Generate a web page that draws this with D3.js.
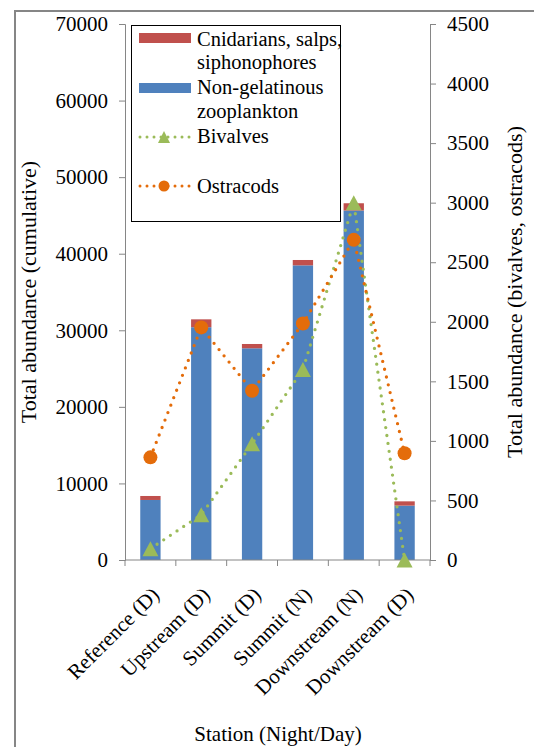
<!DOCTYPE html>
<html>
<head>
<meta charset="utf-8">
<script src="https://cdn.jsdelivr.net/npm/d3@7"></script>
<style>
html,body{margin:0;padding:0;background:#fff;}
</style>
</head>
<body>
<svg id="chart" width="534" height="747"></svg>
<script>
const categories = ["Reference (D)","Upstream (D)","Summit (D)","Summit (N)","Downstream (N)","Downstream (D)"];
const nonGelatinous = [7840, 30400, 27650, 38480, 45640, 7100];
const cnidarians = [520, 1030, 560, 700, 950, 560];
const bivalves = [95, 380, 975, 1600, 3000, 0];
const ostracods = [862, 1953, 1421, 1985, 2688, 896];
const leftTicks = [0,10000,20000,30000,40000,50000,60000,70000];
const rightTicks = [0,500,1000,1500,2000,2500,3000,3500,4000,4500];

const FONT = "Liberation Serif";
const svg = d3.select("#chart");
const L = 125, R = 430, T = 24, B = 560;
const gray = "#868686";
const blue = "#4F81BD", red = "#C0504D", green = "#9BBB59", orange = "#E46C0A";
function styleText(sel, size){
  sel.style("font-family",FONT).style("font-size",size+"px").attr("fill","#000");
}

// outer border
svg.append("rect").attr("x",15).attr("y",11).attr("width",700).attr("height",900)
  .attr("fill","none").attr("stroke",gray).attr("stroke-width",2);

const x = d3.scaleBand().domain(categories).range([L,R]).paddingInner(0.6).paddingOuter(0.3);
const step = x.step();
const cx = d => x(d) + x.bandwidth()/2;
const yL = d3.scaleLinear().domain([0,70000]).range([B,T]);
const yR = d3.scaleLinear().domain([0,4500]).range([B,T]);

// bars
const rows = categories.map((c,i)=>({c, ng:nonGelatinous[i], cn:cnidarians[i]}));
svg.append("g").selectAll("rect").data(rows).join("rect")
  .attr("x",d=>x(d.c)).attr("width",x.bandwidth())
  .attr("y",d=>yL(d.ng)).attr("height",d=>B-yL(d.ng)).attr("fill",blue);
svg.append("g").selectAll("rect").data(rows).join("rect")
  .attr("x",d=>x(d.c)).attr("width",x.bandwidth())
  .attr("y",d=>yL(d.ng+d.cn)).attr("height",d=>yL(d.ng)-yL(d.ng+d.cn)).attr("fill",red);

// axes
const fmt = d3.format("d");
const gl = svg.append("g").attr("transform",`translate(${L},0)`)
  .call(d3.axisLeft(yL).tickValues(leftTicks).tickFormat(fmt).tickSizeOuter(0).tickSize(6).tickPadding(11));
const gr = svg.append("g").attr("transform",`translate(${R},0)`)
  .call(d3.axisRight(yR).tickValues(rightTicks).tickFormat(fmt).tickSizeOuter(0).tickSize(6).tickPadding(11));
[gl,gr].forEach(g=>{
  g.attr("font-family",null);
  g.select(".domain").attr("stroke",gray);
  g.selectAll(".tick line").attr("stroke",gray);
  styleText(g.selectAll(".tick text"),21);
});
// x axis
svg.append("line").attr("x1",L).attr("x2",R).attr("y1",B).attr("y2",B).attr("stroke",gray);
const bounds = categories.map(c=>x(c)-x.paddingOuter()*step).concat([R]);
svg.append("g").selectAll("line").data(bounds).join("line")
  .attr("x1",d=>d).attr("x2",d=>d).attr("y1",B).attr("y2",B+6).attr("stroke",gray);
const xl = svg.append("g").selectAll("text").data(categories).join("text")
  .attr("transform",d=>`translate(${cx(d)+10},${B+36}) rotate(-45)`)
  .attr("text-anchor","end")
  .text(d=>d);
styleText(xl,21);

// lines
function series(vals, color){
  const pts = categories.map((c,i)=>[cx(c), yR(vals[i])]);
  svg.append("path").attr("d",d3.line().curve(d3.curveLinear)(pts))
    .attr("fill","none").attr("stroke",color).attr("stroke-width",3.3)
    .attr("stroke-linecap","round").attr("stroke-dasharray","0 8");
  return pts;
}
const tri = (px,py,w,h)=>`M${px},${py-h/2}L${px+w/2},${py+h/2}L${px-w/2},${py+h/2}Z`;
const bp = series(bivalves, green);
svg.append("g").selectAll("path").data(bp).join("path")
  .attr("d",d=>tri(d[0],d[1],16,15)).attr("fill",green);
const op = series(ostracods, orange);
svg.append("g").selectAll("circle").data(op).join("circle")
  .attr("cx",d=>d[0]).attr("cy",d=>d[1]).attr("r",7).attr("fill",orange);

// axis titles
styleText(svg.append("text").attr("transform",`translate(36,${(T+B)/2}) rotate(-90)`)
  .attr("text-anchor","middle").text("Total abundance (cumulative)"),22);
styleText(svg.append("text").attr("transform",`translate(522,${(T+B)/2}) rotate(-90)`)
  .attr("text-anchor","middle").text("Total abundance (bivalves, ostracods)"),22);
styleText(svg.append("text").attr("x",278).attr("y",741)
  .attr("text-anchor","middle").text("Station (Night/Day)"),21);

// legend
const lg = svg.append("g");
lg.append("rect").attr("x",131.5).attr("y",25.5).attr("width",209).attr("height",196)
  .attr("fill","#fff").attr("stroke","#000").attr("stroke-width",1);
lg.append("rect").attr("x",139).attr("y",33).attr("width",52).attr("height",10).attr("fill",red);
lg.append("rect").attr("x",139).attr("y",83).attr("width",52).attr("height",10).attr("fill",blue);
lg.append("line").attr("x1",140).attr("x2",190).attr("y1",137).attr("y2",137)
  .attr("stroke",green).attr("stroke-width",3).attr("stroke-linecap","round").attr("stroke-dasharray","0 7");
lg.append("path").attr("d",tri(164,137,12,12)).attr("fill",green);
lg.append("line").attr("x1",140).attr("x2",190).attr("y1",186).attr("y2",186)
  .attr("stroke",orange).attr("stroke-width",3).attr("stroke-linecap","round").attr("stroke-dasharray","0 7");
lg.append("circle").attr("cx",164).attr("cy",186).attr("r",5.5).attr("fill",orange);
const legendLines = [
  ["Cnidarians, salps,",46],["siphonophores",69],["Non-gelatinous",94],["zooplankton",118],["Bivalves",143],["Ostracods",193]
];
const lt = lg.selectAll("text.lt").data(legendLines).join("text").attr("class","lt")
  .attr("x",197).attr("y",d=>d[1]).text(d=>d[0]);
styleText(lt,20.5);
</script>
</body>
</html>
